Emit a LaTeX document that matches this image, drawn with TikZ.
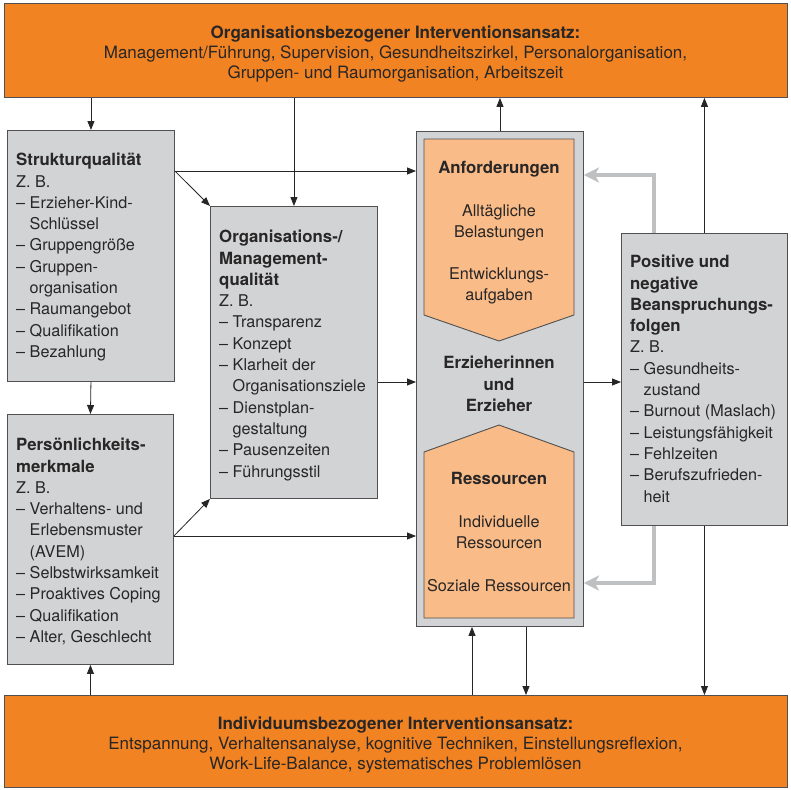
\documentclass[tikz,border=0pt]{standalone}
\usepackage{fontspec}
\setmainfont{TeX Gyre Heros}
\usetikzlibrary{arrows.meta,calc}
\definecolor{orangeD}{RGB}{241,131,35}
\definecolor{orangeL}{RGB}{249,187,135}
\definecolor{grayBox}{RGB}{209,211,212}
\definecolor{grayArr}{RGB}{190,192,194}
\definecolor{lineC}{RGB}{80,80,82}
\definecolor{txtC}{RGB}{40,38,38}
\tikzset{
  boxstyle/.style={draw=lineC, line width=0.9pt, fill=grayBox, inner sep=0pt, anchor=north west},
  barstyle/.style={draw=lineC, line width=0.9pt, fill=orangeD, inner sep=0pt, anchor=north west},
  pentastyle/.style={draw=lineC, line width=0.9pt, fill=orangeL},
  txt/.style={inner sep=0pt, text=txtC, font=\fontsize{16.2}{21.3}\selectfont},
  bartxt/.style={inner sep=0pt, text=txtC, font=\fontsize{17}{20.2}\selectfont, align=center, anchor=north},
  arr/.style={draw=black!85, line width=0.8pt, -{Triangle[length=9pt,width=7pt]}},
  grayarr/.style={draw=grayArr, line width=4pt, -{Stealth[length=15pt,width=15pt,inset=4pt]}}
}
\newcommand{\ind}{\hphantom{– }}
\newcommand{\bt}[1]{{\fontsize{16.8}{21.3}\selectfont\bfseries #1}}
\begin{document}
\begin{tikzpicture}[x=1pt,y=-1pt]
\useasboundingbox (0,0) rectangle (791,789);
\fill[white] (0,0) rectangle (791,789);

% bars
\node[barstyle, minimum width=783pt, minimum height=94pt] (top) at (4,3) {};
\node[barstyle, minimum width=783pt, minimum height=92pt] (bot) at (4,695) {};
\node[bartxt] (toptxt) at (395.5,25.5) {\textbf{Organisationsbezogener Interventionsansatz:}\\Management/Führung, Supervision, Gesundheitszirkel, Personalorganisation,\\Gruppen- und Raumorganisation, Arbeitszeit};
\node[bartxt] (bottxt) at (395.5,716.5) {\textbf{Individuumsbezogener Interventionsansatz:}\\Entspannung, Verhaltensanalyse, kognitive Techniken, Einstellungsreflexion,\\Work-Life-Balance, systematisches Problemlösen};

% boxes
\node[boxstyle, minimum width=167pt, minimum height=251pt] (sq) at (7,130) {};
\node[boxstyle, minimum width=167pt, minimum height=292pt] (og) at (210,206) {};
\node[boxstyle, minimum width=166pt, minimum height=250pt] (pm) at (7,414) {};
\node[boxstyle, minimum width=167pt, minimum height=495pt] (cb) at (416,131) {};
\node[boxstyle, minimum width=166pt, minimum height=292pt] (rb) at (621,233) {};

% pentagons
\draw[pentastyle] (424,139) -- (574,139) -- (574,315) -- (499,341) -- (424,315) -- cycle;
\draw[pentastyle] (424,618) -- (424,452) -- (499,425) -- (574,452) -- (574,618) -- cycle;

% box texts
\node[txt, anchor=north west, align=left] (sqtxt) at (16,153) {\bt{Strukturqualität}\\Z. B.\\– Erzieher-Kind-\\\ind Schlüssel\\– Gruppengröße\\– Gruppen-\\\ind organisation\\– Raumangebot\\– Qualifikation\\– Bezahlung};
\node[txt, anchor=north west, align=left] (ogtxt) at (219,230) {\bt{Organisations-/}\\\bt{Management-}\\\bt{qualität}\\Z. B.\\– Transparenz\\– Konzept\\– Klarheit der\\\ind Organisationsziele\\– Dienstplan-\\\ind gestaltung\\– Pausenzeiten\\– Führungsstil};
\node[txt, anchor=north west, align=left] (pmtxt) at (16,438) {\bt{Persönlichkeits-}\\\bt{merkmale}\\Z. B.\\– Verhaltens- und\\\ind Erlebensmuster\\\ind (AVEM)\\– Selbstwirksamkeit\\– Proaktives Coping\\– Qualifikation\\– Alter, Geschlecht};
\node[txt, anchor=north west, align=left] (rbtxt) at (630,255) {\bt{Positive und}\\\bt{negative}\\\bt{Beanspruchungs-}\\\bt{folgen}\\Z. B.\\– Gesundheits-\\\ind zustand\\– Burnout (Maslach)\\– Leistungsfähigkeit\\– Fehlzeiten\\– Berufszufrieden-\\\ind heit};

% center texts
\node[txt, anchor=base] (anf) at (499,173) {\bt{Anforderungen}};
\node[txt, anchor=north, align=center] (allt) at (499,204) {Alltägliche\\Belastungen};
\node[txt, anchor=north, align=center] (entw) at (499,267) {Entwicklungs-\\aufgaben};
\node[txt, anchor=north, align=center] (erz) at (499,356) {\bt{Erzieherinnen}\\\bt{und}\\\bt{Erzieher}};
\node[txt, anchor=base] (res) at (499,484) {\bt{Ressourcen}};
\node[txt, anchor=north, align=center] (indiv) at (499,515) {Individuelle\\Ressourcen};
\node[txt, anchor=base] (soz) at (499,591) {Soziale Ressourcen};

% helper coordinates
\coordinate (y171) at (0,171);
\coordinate (y382) at (0,382);
\coordinate (y536) at (0,536);
\coordinate (y175) at (0,175);
\coordinate (y583) at (0,583);
\coordinate (x472) at (472,0);
\coordinate (x526) at (526,0);
\coordinate (x654) at (654,0);

% connectors
\draw[arr] (sq.north |- top.south) -- (sq.north);
\draw[arr] (og.north |- top.south) -- (og.north);
\draw[arr] (cb.north) -- (cb.north |- top.south);
\draw[arr] (rb.north) -- (rb.north |- top.south);
\draw[arr] (sq.east |- y171) -- (cb.west |- y171);
\draw[arr] (sq.east |- y171) -- (og.north west);
\draw[arr] (og.east |- y382) -- (cb.west |- y382);
\draw[arr] (sq.south) -- (pm.north);
\draw[arr] (pm.east |- y536) -- (og.south west);
\draw[arr] (pm.east |- y536) -- (cb.west |- y536);
\draw[arr] (pm.south |- bot.north) -- (pm.south);
\draw[arr] (cb.east |- y382) -- (rb.west |- y382);
\draw[arr] (x472 |- bot.north) -- (x472 |- cb.south);
\draw[arr] (x526 |- cb.south) -- (x526 |- bot.north);
\draw[arr] (rb.south) -- (rb.south |- bot.north);
\draw[grayarr] (x654 |- rb.north) -- (x654 |- y175) -- (cb.east |- y175);
\draw[grayarr] (x654 |- rb.south) -- (x654 |- y583) -- (cb.east |- y583);
\end{tikzpicture}
\end{document}
